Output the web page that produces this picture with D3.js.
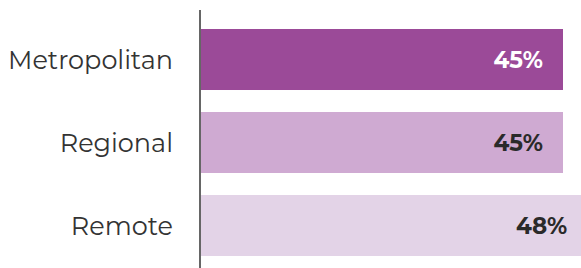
<!DOCTYPE html>
<html>
<head>
<meta charset="utf-8">
<script src="https://cdn.jsdelivr.net/npm/d3@7"></script>
<style>
  body { margin: 0; background: #fff; }
  svg { display: block; }
</style>
</head>
<body>
<div id="chart"></div>
<script>
// chart data
const categories = ["Metropolitan", "Regional", "Remote"];
const values = [45, 45, 48];
const labels = ["45%", "45%", "48%"];
const barColors = ["#9b4a98", "#cfaad2", "#e3d3e7"];
const labelColors = ["#ffffff", "#2a2a2a", "#2a2a2a"];

const width = 581;
const height = 268;
const axisX = 200;

const svg = d3.select("#chart")
    .append("svg")
    .attr("width", width)
    .attr("height", height);

// x scale: 45% spans from axis to x=563
const xScale = d3.scaleLinear()
    .domain([0, 45])
    .range([axisX, 563]);

const yScale = d3.scaleBand()
    .domain(categories)
    .range([29, 256])
    .paddingInner(0.265)
    .paddingOuter(0);

// bars
svg.selectAll(".bar")
    .data(values)
    .enter()
    .append("rect")
    .attr("class", "bar")
    .attr("x", xScale(0))
    .attr("y", (d, i) => yScale(categories[i]))
    .attr("width", d => xScale(d) - xScale(0))
    .attr("height", yScale.bandwidth())
    .attr("fill", (d, i) => barColors[i]);

// value labels
svg.selectAll(".value")
    .data(values)
    .enter()
    .append("text")
    .attr("class", "value")
    .attr("x", d => xScale(d) - 20)
    .attr("y", (d, i) => yScale(categories[i]) + yScale.bandwidth() / 2)
    .attr("dy", "0.39em")
    .attr("text-anchor", "end")
    .attr("font-family", "Montserrat, 'Open Sans', sans-serif")
    .attr("font-weight", "bold")
    .attr("font-size", 23)
    .attr("fill", (d, i) => labelColors[i])
    .text((d, i) => labels[i]);

// category axis
const yAxis = d3.axisLeft(yScale).tickSize(0).tickPadding(27);
const axisG = svg.append("g")
    .attr("transform", `translate(${axisX}, 0)`)
    .call(yAxis);

axisG.select(".domain").remove();
axisG.selectAll("text")
    .attr("dy", "0.38em")
    .attr("font-family", "Montserrat, 'Open Sans', sans-serif")
    .attr("font-size", 25.5)
    .attr("fill", "#333");

// vertical axis line
svg.append("line")
    .attr("x1", axisX)
    .attr("x2", axisX)
    .attr("y1", 10)
    .attr("y2", height)
    .attr("stroke", "#666")
    .attr("stroke-width", 2);
</script>
</body>
</html>
